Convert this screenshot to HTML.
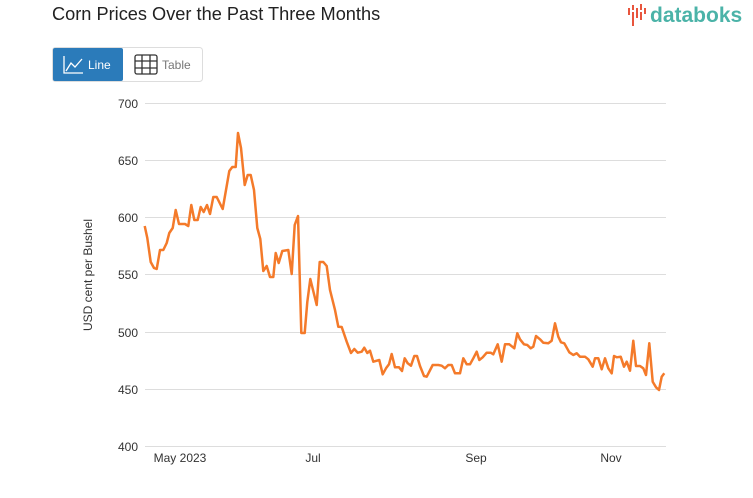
<!DOCTYPE html>
<html><head><style>
body{margin:0;background:#fff;font-family:"Liberation Sans",sans-serif;}
</style></head><body>
<svg width="753" height="498" xmlns="http://www.w3.org/2000/svg" style="position:absolute;left:0;top:0">
<text x="52" y="20" font-size="18.2" fill="#222" font-family="Liberation Sans">Corn Prices Over the Past Three Months</text>
<g>
<rect x="628" y="8" width="2" height="7" fill="#e8553d"/><rect x="632" y="5" width="2" height="5" fill="#e8553d"/><rect x="632" y="12" width="2" height="14" fill="#e8553d"/><rect x="636" y="8" width="2" height="10" fill="#e8553d"/><rect x="640" y="4" width="2" height="6" fill="#e8553d"/><rect x="640" y="12" width="2" height="8" fill="#e8553d"/><rect x="644" y="8" width="2" height="6" fill="#e8553d"/>
<text x="650" y="22" font-size="21" font-weight="bold" fill="#4bb3a8" font-family="Liberation Sans">databoks</text>
</g>
<rect x="52.5" y="47.5" width="150" height="34" rx="3" fill="#fff" stroke="#ddd"/>
<rect x="53" y="48" width="70" height="33" rx="2" fill="#2b7bba"/>
<path d="M64,56 V73 H83 M66,71 L71,63 L75,67 L82,59" fill="none" stroke="#fff" stroke-width="1.3"/>
<text x="88" y="69" font-size="12" fill="#fff">Line</text>
<g stroke="#333" stroke-width="1.3" fill="none"><rect x="135" y="55" width="22" height="19" rx="2"/><path d="M142,55V74M150,55V74M135,61H157M135,68H157"/></g>
<text x="162" y="69" font-size="12" fill="#777">Table</text>
<g stroke="#ddd" stroke-width="1">
<line x1="145" y1="103.5" x2="666" y2="103.5"/><line x1="145" y1="160.5" x2="666" y2="160.5"/><line x1="145" y1="217.5" x2="666" y2="217.5"/><line x1="145" y1="274.5" x2="666" y2="274.5"/><line x1="145" y1="332.5" x2="666" y2="332.5"/><line x1="145" y1="389.5" x2="666" y2="389.5"/><line x1="145" y1="446.5" x2="666" y2="446.5"/>
</g>
<g font-size="12" fill="#333" text-anchor="end">
<text x="138" y="108">700</text><text x="138" y="165">650</text><text x="138" y="222">600</text><text x="138" y="279">550</text><text x="138" y="337">500</text><text x="138" y="394">450</text><text x="138" y="451">400</text>
</g>
<g font-size="12" fill="#333" text-anchor="middle">
<text x="180" y="462">May 2023</text><text x="313" y="462">Jul</text><text x="476" y="462">Sep</text><text x="611" y="462">Nov</text>
</g>
<text transform="translate(92,275) rotate(-90)" font-size="12" fill="#333" text-anchor="middle">USD cent per Bushel</text>
<polyline fill="none" stroke="#f47a2a" stroke-width="2.5" stroke-linejoin="round" points="144.7,226 147.3,238 150.7,262 154,268 156.7,269 160,250 163.3,250 166.7,243 169.3,233 172.7,228 175.7,210 179,224 185,224 188.3,226 191.3,205 194.3,220 197.7,220 200.7,207 203.7,212 207,205 210,214 213.3,197 216.7,197 222.7,209 229.3,171 232.3,167 235.7,167 238,133 241,148 244.7,185 247.7,175 250.7,175 254,190 257.3,228 260.3,239 263.3,271 266.7,266 270,277 273.3,277 275.7,253 278.7,263 282.3,251 288.3,250 291.7,274 294.7,225 298,216 301.3,333 304.7,333 307.3,302 310.3,279 316.7,305 319.7,262 323.3,262 326.7,266 330,290 335,310 338.3,326.7 341.7,327 346.7,341.7 351,353 354.3,349 357.7,352.7 361.7,351.7 364.3,347.7 367.3,353 370,350.7 373.3,361.7 379.3,360 382.7,374.3 386,368.3 389,364.3 391.7,354 395,367.3 399,367.3 402,371 404.7,358.3 407.7,363.3 411,365.7 414.3,356 417,356 420,366 424,376 426.7,376.7 432.7,365 438.3,365 441.7,365.7 445,368.3 448.3,365 451.7,365 455,373.3 460,373.3 463.3,358.3 466.7,364.3 470,364.3 473.3,358.3 476.7,351.7 479.3,360 482.7,357.3 486.7,352.7 490.7,352.7 493.3,354.3 497.7,344.3 501.7,361.7 505,344.3 509.3,344.3 514.3,348.3 517.3,333.3 520,339.3 524,344.3 527.3,345 530.7,348.3 533.3,346.7 536,336 540,339.3 543.3,342.7 548.3,343.3 551.7,340.7 555,323.3 558.3,336.7 561,342.3 564.3,343.3 569.3,352.3 573.3,355 576.7,353.3 580,356.7 585,356.7 588.3,359.3 592.7,366.7 595,358.3 598.3,358.3 601.7,369.3 605,358.3 608.3,368.3 611.7,373.3 614,356 616.7,357.3 620.7,356.7 624,366.7 626.7,361.7 630,370.7 633.3,340.7 636,366 640,366 643.3,368.3 646,375 649.3,343.3 652.7,381.7 656,387.3 659,390 661.7,376.7 664.3,373.3"/>
</svg>
</body></html>
